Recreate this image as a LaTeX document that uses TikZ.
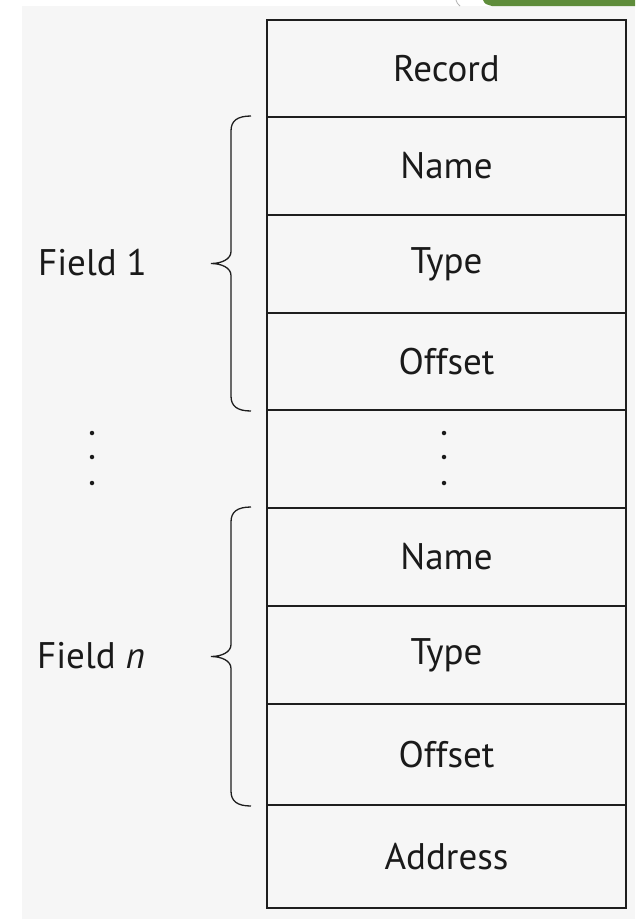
\documentclass[tikz,border=0pt]{standalone}
\usepackage{fontspec}
\setmainfont{PT Sans}
\usetikzlibrary{calc}
\definecolor{paper}{HTML}{F6F6F6}
\definecolor{boxline}{HTML}{1E1E1E}
\definecolor{textcol}{HTML}{1A1A1A}
\definecolor{leafgreen}{HTML}{5E8C3A}
\newcommand\labelfont{\fontsize{37}{40}\selectfont}
% curly brace on the left of a group of cells, from the top of #1 to the bottom of #2
\newcommand\fieldbrace[2]{%
  \coordinate (bt) at ($(#1.north west)+(-15,0)$);
  \coordinate (bb) at ($(#2.south west)+(-15,0)$);
  \coordinate (bm) at ($(bt)!0.5!(bb)$);
  \draw[brace] (bt) .. controls +(-14,0) and +(0,-10) .. ($(bt)+(-20,15)$)
    -- ($(bm)+(-20,-12)$) .. controls +(0,8) and +(10,0) .. ($(bm)+(-40,0)$)
    .. controls +(10,0) and +(0,-8) .. ($(bm)+(-20,12)$)
    -- ($(bb)+(-20,-15)$) .. controls +(0,10) and +(-14,0) .. (bb);
}
\begin{document}
\begin{tikzpicture}[x=1pt,y=-1pt,
  cell/.style={draw=boxline, line width=2pt, minimum width=359pt, inner sep=0pt,
               font=\labelfont, text=textcol},
  brace/.style={draw=boxline, line width=1.3pt},
  side/.style={font=\labelfont, text=textcol, inner sep=0pt, anchor=west},
  dotmark/.style={circle, fill=textcol, inner sep=0pt, minimum size=4.5pt}]
  % page and paper
  \useasboundingbox (0,0) rectangle (635,919);
  \fill[white] (0,0) rectangle (635,919);
  \fill[paper] (22,6) rectangle (635,919);
  \fill[leafgreen] (483,0) .. controls (485,4) .. (492,6) -- (635,6) -- (635,0) -- cycle;
  \draw[gray!60, line width=0.8pt] (456,0) .. controls (457,3) .. (460,6);

  % the record layout, one cell per row
  \node[cell, minimum height=97pt] (record)  at (446.5,68.5) {Record};
  \node[cell, minimum height=98pt] (name1)   at (446.5,166)  {Name};
  \node[cell, minimum height=98pt] (type1)   at (446.5,264)  {Type};
  \node[cell, minimum height=97pt] (offset1) at (446.5,361.5) {Offset};
  \node[cell, minimum height=98pt] (gap)     at (446.5,459)  {};
  \node[cell, minimum height=98pt] (namen)   at (446.5,557)  {Name};
  \node[cell, minimum height=98pt] (typen)   at (446.5,655)  {Type};
  \node[cell, minimum height=101pt] (offsetn) at (446.5,754.5) {Offset};
  \node[cell, minimum height=103pt] (address) at (446.5,856.5) {Address};

  % vertical ellipses
  \foreach \y [count=\i] in {433,457,483} {
    \node[dotmark] (cd\i) at (444,\y) {};
    \node[dotmark] (ld\i) at (92,\y) {};
  }

  % braces and their labels
  \fieldbrace{name1}{offset1}
  \fieldbrace{namen}{offsetn}
  \node[side] (field1) at (38,263) {Field 1};
  \node[side] (fieldn) at (37,656) {Field \textit{n}};
\end{tikzpicture}
\end{document}
